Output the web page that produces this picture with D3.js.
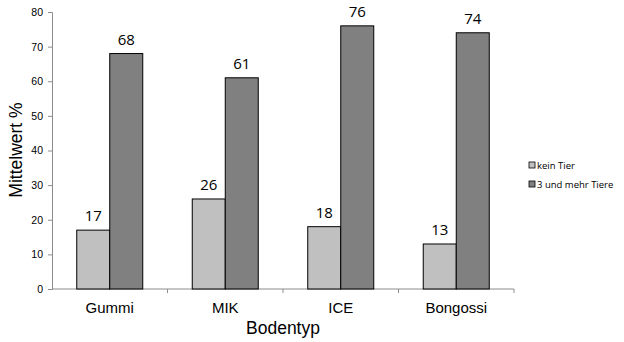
<!DOCTYPE html>
<html>
<head>
<meta charset="utf-8">
<script src="https://cdn.jsdelivr.net/npm/d3@7"></script>
<style>
  html, body { margin: 0; padding: 0; background: #fff; }
  svg { display: block; }
</style>
</head>
<body>
<svg id="chart" width="624" height="342"></svg>
<script>
// Mean values per floor type, two animal groups
const categories = ["Gummi", "MIK", "ICE", "Bongossi"];
const seriesNames = ["kein Tier", "3 und mehr Tiere"];
const keinTier = [17, 26, 18, 13];
const dreiUndMehr = [68, 61, 76, 74];
const yTicks = [0, 10, 20, 30, 40, 50, 60, 70, 80];
const colors = ["#c0c0c0", "#808080"];

const series = [keinTier, dreiUndMehr];
const svg = d3.select("#chart");

const plot = { left: 52, right: 514, top: 12, bottom: 289 };

const x = d3.scaleBand().domain(categories).range([plot.left, plot.right]).paddingInner(0).paddingOuter(0);
const groupW = 66;
const xs = d3.scaleBand().domain(d3.range(series.length)).range([0, groupW]);
const y = d3.scaleLinear().domain([0, 80]).range([plot.bottom, plot.top]);

const axisColor = "#8c8c8c";

// y axis
const yAxis = svg.append("g")
  .attr("transform", `translate(${plot.left},0)`)
  .call(d3.axisLeft(y).tickValues(yTicks).tickSize(4).tickPadding(5));
yAxis.select(".domain").attr("stroke", axisColor);
yAxis.selectAll(".tick line").attr("stroke", axisColor);
yAxis.selectAll(".tick text")
  .attr("font-family", "Liberation Sans, Arial, sans-serif")
  .attr("font-size", 10.5)
  .attr("fill", "#000");

// x axis with ticks at category boundaries
const xAxisG = svg.append("g").attr("transform", `translate(0,${plot.bottom})`);
xAxisG.append("line")
  .attr("x1", plot.left).attr("x2", plot.right)
  .attr("stroke", axisColor);
const boundaries = categories.map(c => x(c) + x.bandwidth());
xAxisG.selectAll("line.tk").data(boundaries).join("line")
  .attr("class", "tk")
  .attr("x1", d => d).attr("x2", d => d)
  .attr("y1", 0).attr("y2", 4)
  .attr("stroke", axisColor);
xAxisG.selectAll("text.cat").data(categories).join("text")
  .attr("class", "cat")
  .attr("x", d => x(d) + x.bandwidth() / 2)
  .attr("y", 24)
  .attr("text-anchor", "middle")
  .attr("font-family", "Liberation Sans, Arial, sans-serif")
  .attr("font-size", 15)
  .text(d => d);

// bars
const groups = svg.append("g").selectAll("g").data(categories).join("g")
  .attr("transform", d => `translate(${x(d) + (x.bandwidth() - groupW) / 2},0)`);

groups.each(function(cat, ci) {
  const g = d3.select(this);
  series.forEach((s, si) => {
    const v = s[ci];
    g.append("rect")
      .attr("x", xs(si))
      .attr("y", y(v))
      .attr("width", xs.bandwidth())
      .attr("height", y(0) - y(v))
      .attr("fill", colors[si])
      .attr("stroke", "#000")
      .attr("stroke-width", 1);
    g.append("text")
      .attr("x", xs(si) + xs.bandwidth() / 2)
      .attr("y", y(v) - 9)
      .attr("text-anchor", "middle")
      .attr("font-family", "Open Sans, sans-serif")
      .attr("font-size", 15)
      .attr("fill", "#000")
      .text(v);
  });
});

// axis titles
svg.append("text")
  .attr("transform", "translate(22,150) rotate(-90)")
  .attr("text-anchor", "middle")
  .attr("font-family", "Liberation Sans, Arial, sans-serif")
  .attr("font-size", 17.5)
  .text("Mittelwert %");

svg.append("text")
  .attr("x", (plot.left + plot.right) / 2)
  .attr("y", 334)
  .attr("text-anchor", "middle")
  .attr("font-family", "Liberation Sans, Arial, sans-serif")
  .attr("font-size", 17.5)
  .text("Bodentyp");

// legend
const legend = svg.append("g").attr("transform", "translate(529,0)");
const legY = [165, 184];
seriesNames.forEach((name, i) => {
  legend.append("rect")
    .attr("x", 0).attr("y", legY[i] - 3)
    .attr("width", 6).attr("height", 6)
    .attr("fill", colors[i])
    .attr("stroke", "#000")
    .attr("stroke-width", 0.8);
  legend.append("text")
    .attr("x", 8).attr("y", legY[i] + 3.5)
    .attr("font-family", "Open Sans, sans-serif")
    .attr("font-size", 9.5)
    .text(name);
});
</script>
</body>
</html>
